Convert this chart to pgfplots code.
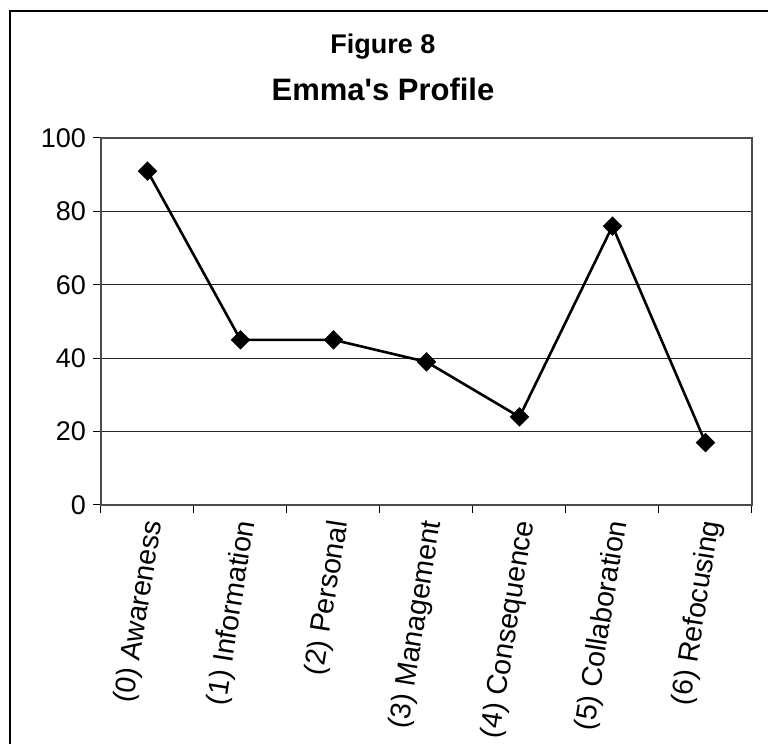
\documentclass[border=0pt]{standalone}
\usepackage{pgfplots}
\pgfplotsset{compat=1.18}
\usepackage{fontspec}
\setmainfont{Liberation Sans}
\begin{document}
\begin{tikzpicture}
\useasboundingbox (-50.5pt,-119.5pt) rectangle (333.5pt,252.5pt);
% outer chart frame
\draw[line width=0.8pt] (-45.5pt,-119.5pt) -- (-45.5pt,247pt) -- (333.5pt,247pt);
% titles
\node[font=\bfseries\fontsize{13.5}{16}\selectfont] at (141pt,229pt) {Figure 8};
\node[font=\bfseries\fontsize{15.5}{18}\selectfont] at (141pt,208pt) {Emma\textquotesingle s Profile};
\begin{axis}[
  at={(0pt,0pt)}, anchor=south west,
  scale only axis, width=325.5pt, height=183.5pt,
  xmin=0.5, xmax=7.5, ymin=0, ymax=100,
  xtick={1,...,7},
  xticklabels={(0) Awareness,(1) Information,(2) Personal,(3) Management,(4) Consequence,(5) Collaboration,(6) Refocusing},
  major x tick style={draw=none},
  minor xtick={0.5,1.5,...,7.5},
  ytick={0,20,...,100},
  xtick pos=bottom, ytick pos=left,
  tick align=outside, major tick length=4pt, minor tick length=4pt,
  ymajorgrids, grid style={black!85, line width=0.5pt},
  axis line style={gray!60!black, line width=0.9pt},
  tick style={black, line width=0.5pt},
  y tick label style={font=\fontsize{13.5}{16}\selectfont, /pgf/number format/assume math mode=true},
  x tick label style={font=\fontsize{14.3}{17}\selectfont, rotate=81, anchor=east, yshift=-4pt},
]
\addplot[black, line width=1.3pt, mark=square*, mark size=2.8pt,
  mark options={rotate=45, solid}] coordinates {
  (1,91) (2,45) (3,45) (4,39) (5,24) (6,76) (7,17)
};
\end{axis}
\end{tikzpicture}
\end{document}
